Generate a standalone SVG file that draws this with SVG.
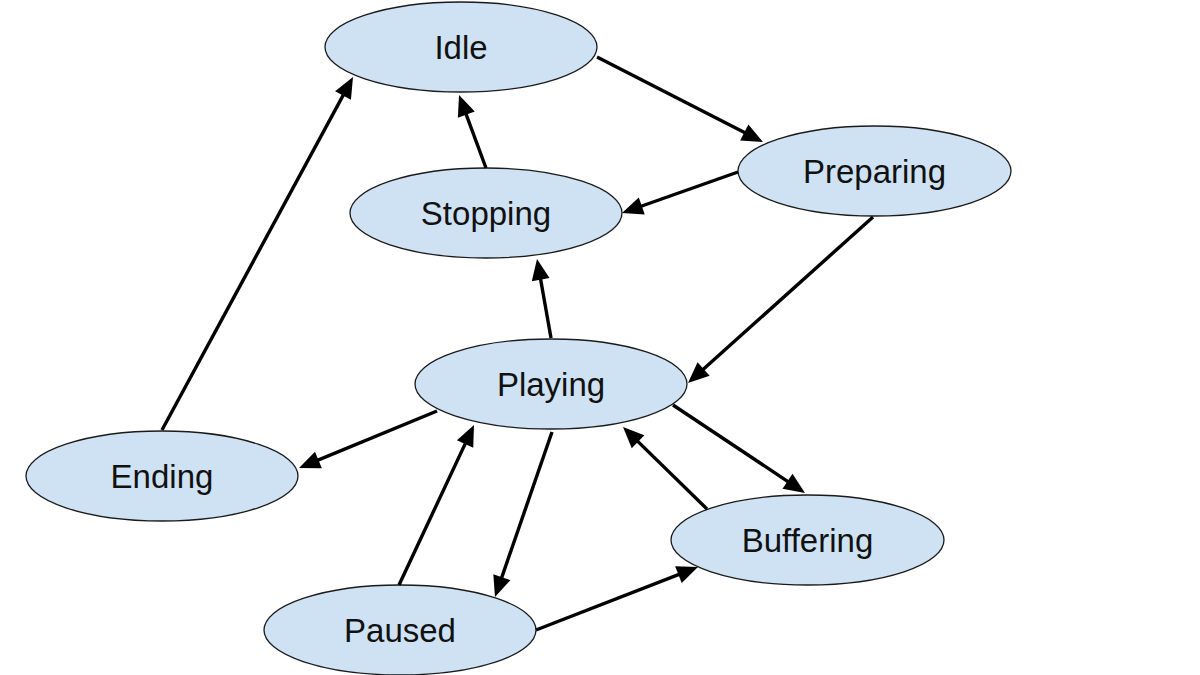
<svg xmlns="http://www.w3.org/2000/svg" width="1200" height="675" viewBox="0 0 1200 675">
<style>
.node ellipse{fill:#cfe2f3;stroke:#1a1a1a;stroke-width:1.3}
.node text{font-family:"Liberation Sans",Arial,sans-serif;font-size:33px;fill:#111;text-anchor:middle}
.edge{stroke:#000;stroke-width:3.4;fill:none;marker-end:url(#arr)}
</style>
<defs>
<marker id="arr" markerUnits="userSpaceOnUse" markerWidth="23" markerHeight="19" refX="9" refY="9" orient="auto" overflow="visible">
<path d="M0,0 L21,9 L0,18 z" fill="#000"/>
</marker>
</defs>
<rect width="1200" height="675" fill="#fff"/>
<g id="idle" class="node"><ellipse cx="461" cy="47" rx="136" ry="45"/><text x="461" y="59">Idle</text></g>
<g id="preparing" class="node"><ellipse cx="874.5" cy="171" rx="136.5" ry="45"/><text x="874.5" y="183">Preparing</text></g>
<g id="stopping" class="node"><ellipse cx="486" cy="213" rx="136" ry="45"/><text x="486" y="225">Stopping</text></g>
<g id="playing" class="node"><ellipse cx="551" cy="384" rx="136" ry="45"/><text x="551" y="396">Playing</text></g>
<g id="ending" class="node"><ellipse cx="162" cy="476" rx="136" ry="45"/><text x="162" y="488">Ending</text></g>
<g id="buffering" class="node"><ellipse cx="807.5" cy="540" rx="136.5" ry="45"/><text x="807.5" y="552">Buffering</text></g>
<g id="paused" class="node"><ellipse cx="400" cy="630" rx="136" ry="45"/><text x="400" y="642">Paused</text></g>
<g id="connectors">
<line class="edge" x1="597" y1="57" x2="752.3" y2="136.5"/>
<line class="edge" x1="738" y1="172" x2="633.3" y2="209"/>
<line class="edge" x1="486" y1="168" x2="463.2" y2="106.3"/>
<line class="edge" x1="873" y1="217" x2="696.9" y2="375"/>
<line class="edge" x1="551" y1="338" x2="539.1" y2="270.8"/>
<line class="edge" x1="437" y1="411" x2="310.1" y2="463.4"/>
<line class="edge" x1="162" y1="430" x2="347.3" y2="87.6"/>
<line class="edge" x1="399" y1="585" x2="468.9" y2="435.9"/>
<line class="edge" x1="552" y1="432" x2="498.9" y2="585.7"/>
<line class="edge" x1="536" y1="630" x2="686.8" y2="571.3"/>
<line class="edge" x1="707" y1="509" x2="631.6" y2="435.4"/>
<line class="edge" x1="673" y1="405" x2="795" y2="486.3"/>
</g>
</svg>
